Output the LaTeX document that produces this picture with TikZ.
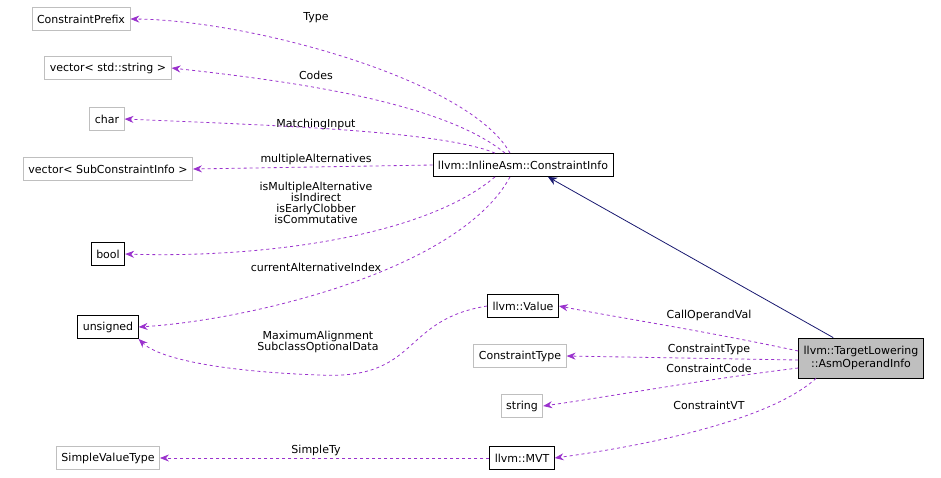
\documentclass[tikz,border=0pt]{standalone}
\usepackage{fontspec}
\setmainfont{DejaVu Sans}
\usetikzlibrary{arrows.meta}
\definecolor{edgepurple}{HTML}{9A32CD}
\definecolor{edgenavy}{HTML}{191970}
\definecolor{boxgray}{HTML}{BFBFBF}
\tikzset{
  cls/.style={draw=black,fill=white,minimum height=23pt,inner xsep=5pt,line width=0.8pt,font=\fontsize{11}{12.5}\selectfont},
  ext/.style={cls,draw=boxgray},
  usage/.style={draw=edgepurple,dashed,line width=0.8pt,-{Stealth[length=9pt,width=7pt]}},
  inherit/.style={draw=edgenavy,line width=0.8pt,-{Stealth[length=9pt,width=8pt]}},
  lbl/.style={font=\fontsize{11}{11}\selectfont,align=center,inner sep=1pt}
}
\begin{document}
\begin{tikzpicture}[x=1pt,y=-1pt]
\useasboundingbox (0,0) rectangle (941,477);

% classes
\node[ext] (prefix) at (81,19) {ConstraintPrefix};
\node[ext] (vecstr) at (108,68) {vector< std::string >};
\node[ext] (char) at (107,119) {char};
\node[ext] (vecsub) at (108,169) {vector< SubConstraintInfo >};
\node[cls] (bool) at (108,254) {bool};
\node[cls] (unsigned) at (108,327) {unsigned};
\node[ext] (svt) at (108,458) {SimpleValueType};
\node[cls] (cinfo) at (523,165) {llvm::InlineAsm::ConstraintInfo};
\node[cls] (value) at (523,306) {llvm::Value};
\node[ext] (ctype) at (520,356) {ConstraintType};
\node[ext] (string) at (522,406) {string};
\node[cls] (mvt) at (522,458) {llvm::MVT};
\node[cls,fill=boxgray,minimum height=40pt,align=center] (asm) at (861,358) {llvm::TargetLowering\\::AsmOperandInfo};

% labels
\node[lbl] (ltype) at (316,18) {Type};
\node[lbl] (lcodes) at (316,75) {Codes};
\node[lbl] (lmatch) at (316,124) {MatchingInput};
\node[lbl] (lmulti) at (316,159) {multipleAlternatives};
\node[lbl] (lflags) at (316,203) {isMultipleAlternative\\isIndirect\\isEarlyClobber\\isCommutative};
\node[lbl] (lcur) at (316,267) {currentAlternativeIndex};
\node[lbl] (lmax) at (318,342) {MaximumAlignment\\SubclassOptionalData};
\node[lbl] (lcall) at (709,315) {CallOperandVal};
\node[lbl] (lctype) at (709,349) {ConstraintType};
\node[lbl] (lccode) at (709,368) {ConstraintCode};
\node[lbl] (lcvt) at (709,405) {ConstraintVT};
\node[lbl] (lsty) at (316,450) {SimpleTy};

% edges
\draw[inherit] (asm.north west) ++(35,0) -- ([xshift=25pt]cinfo.south);
\draw[usage] ([xshift=-13pt]cinfo.north) .. controls (470,80) and (250,20) .. (prefix.east);
\draw[usage] ([xshift=-18pt]cinfo.north) .. controls (440,100) and (280,80) .. (vecstr.east);
\draw[usage] ([xshift=-28pt]cinfo.north) .. controls (440,130) and (260,125) .. (char.east);
\draw[usage] (cinfo.west) -- (vecsub.east);
\draw[usage] ([xshift=-28pt]cinfo.south) .. controls (420,240) and (250,258) .. (bool.east);
\draw[usage] ([xshift=-13pt]cinfo.south) .. controls (460,270) and (250,320) .. (unsigned.east);
\draw[usage] (value.west) .. controls (400,320) and (420,380) .. (320,375) .. controls (230,372) and (160,360) .. (unsigned.south east);
\draw[usage] ([yshift=7pt]asm.west) .. controls (700,330) and (620,318) .. (value.east);
\draw[usage] ([yshift=-2pt]asm.west) -- (ctype.east);
\draw[usage] ([yshift=-10pt]asm.west) .. controls (700,380) and (620,395) .. (string.east);
\draw[usage] ([xshift=-45pt]asm.south) .. controls (770,420) and (650,445) .. (mvt.east);
\draw[usage] (mvt.west) -- (svt.east);
\end{tikzpicture}
\end{document}
